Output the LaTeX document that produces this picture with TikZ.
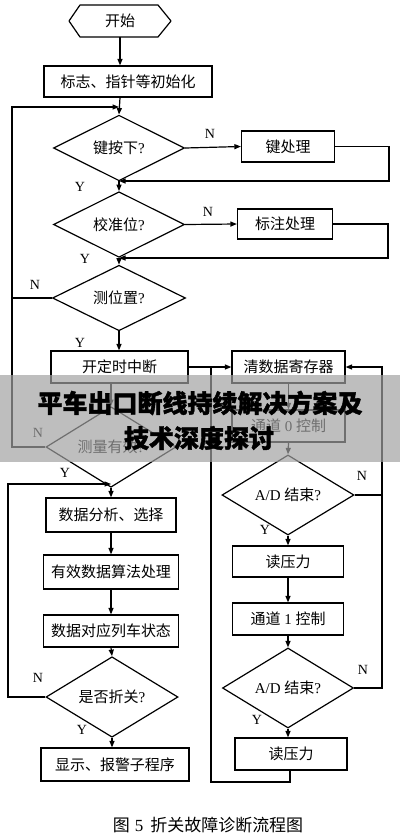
\documentclass[tikz,border=0pt]{standalone}
\usepackage{fontspec}
\setmainfont{Liberation Serif}
\newfontfamily\cjk{Noto Sans CJK SC}
\newfontfamily\cjkh[BoldFeatures={FakeBold=1.6}]{Noto Sans CJK SC}
\usetikzlibrary{shapes.geometric,arrows.meta,calc}
\newcommand\zh[1]{{\cjk #1}}
\begin{document}
\begin{tikzpicture}[x=1pt,y=-1pt,
  ln/.style={line width=1.2pt},
  arr/.style={ln,-{Triangle[length=6.5pt,width=5pt]}},
  pbox/.style={draw,ln,rectangle,inner sep=0pt,font=\fontsize{15}{16}\selectfont},
  dec/.style={draw,ln,diamond,inner sep=0pt,minimum width=131pt,minimum height=50pt,font=\fontsize{15}{16}\selectfont},
  lab/.style={font=\fontsize{14}{16}\selectfont,inner sep=0pt}]
\fill[white] (0,0) rectangle (400,839);
\useasboundingbox (0,0) rectangle (400,839);

% start terminal
\draw[ln,line join=round] (80,5) -- (158,5) -- (171,21) -- (158,37) -- (80,37) -- (69,21) -- cycle;
\node[inner sep=0pt,minimum width=102pt,minimum height=32pt,font=\fontsize{15}{16}\selectfont] (start) at (120,21) {\zh{开始}};

\node[pbox,minimum width=168pt,minimum height=31pt] (init) at (128,81.5) {\zh{标志、指针等初始化}};
\node[dec] (d1) at (119,148) {\zh{键按下}?};
\node[pbox,minimum width=93pt,minimum height=31pt] (kp) at (288,146.5) {\zh{键处理}};
\node[dec,minimum height=49pt] (d2) at (119,224.5) {\zh{校准位}?};
\node[pbox,minimum width=95pt,minimum height=30pt] (bz) at (285,224) {\zh{标注处理}};
\node[dec,minimum width=133pt] (d3) at (119,298) {\zh{测位置}?};
\node[pbox,minimum width=137pt,minimum height=32pt] (ds) at (119.5,367) {\zh{开定时中断}};
\node[pbox,minimum width=113pt,minimum height=32pt] (cq) at (288.5,367) {\zh{清数据寄存器}};
\node[pbox,minimum width=113pt,minimum height=32pt] (td0) at (288.5,426) {\zh{通道} 0 \zh{控制}};
\node[dec,minimum width=132pt] (ad1) at (288,495) {A/D \zh{结束}?};
\node[pbox,minimum width=111pt,minimum height=31pt] (dy1) at (288,561.5) {\zh{读压力}};
\node[pbox,minimum width=111pt,minimum height=32pt] (td1) at (288,619) {\zh{通道} 1 \zh{控制}};
\node[dec,minimum height=49pt] (ad2) at (288,688) {A/D \zh{结束}?};
\node[pbox,minimum width=112pt,minimum height=32pt] (dy2) at (291,754) {\zh{读压力}};

\node[dec,minimum width=130pt] (d4) at (111,447) {\zh{测量有效}?};
\node[pbox,minimum width=130pt,minimum height=34pt] (fx) at (111,515) {\zh{数据分析、选择}};
\node[pbox,minimum width=135pt,minimum height=34pt] (yx) at (111,572) {\zh{有效数据算法处理}};
\node[pbox,minimum width=135pt,minimum height=32pt] (dz) at (111,631) {\zh{数据对应列车状态}};
\node[dec,minimum width=132pt] (d5) at (112,697) {\zh{是否折关}?};
\node[pbox,minimum width=148pt,minimum height=33pt] (xs) at (115,764.5) {\zh{显示、报警子程序}};

% helper coordinates
\coordinate (lt) at (12,107);
\coordinate (k1) at (389,181);
\coordinate (b1) at (388,258);
\coordinate (rr) at (382,688);
\coordinate (rb) at (211,782);
\coordinate (lb) at (8,484);

% main column
\draw[arr] (start.south) -- (start.south |- init.north);
\draw[arr] (start.south |- init.south) -- (d1.north);
\draw[arr] (d1.south) -- (d2.north);
\draw[arr] (d2.south) -- (d3.north);
\draw[arr] (d3.south) -- (d3.south |- ds.north);
\draw[arr] (d1.east) -- (kp.west);
\draw[arr] (kp.east) -| (k1) -- (k1 -| d1.south);
\draw[arr] (d2.east) -- (bz.west);
\draw[arr] (bz.east) -| (b1) -- (b1 -| d2.south);
\draw[ln] (d3.west) -- (d3.west -| lt);
\draw[arr] (d4.west) -| (lt) -- (lt -| d1.north);
\draw[arr] (ds.south -| d4.north) -- (d4.north);

% left column
\draw[arr] (d4.south) -- (fx.north);
\draw[arr] (fx.south) -- (yx.north);
\draw[arr] (yx.south) -- (dz.north);
\draw[arr] (dz.south) -- (d5.north);
\draw[arr] (d5.south) -- (d5.south |- xs.north);
\draw[arr] (d5.west) -| (lb) -- (lb -| fx.north);

% right column
\draw[arr] (ds.east) -- (cq.west);
\draw[arr] (cq.south) -- (td0.north);
\draw[arr] (td0.south) -- (ad1.north);
\draw[arr] (ad1.south) -- (dy1.north);
\draw[arr] (dy1.south) -- (td1.north);
\draw[arr] (td1.south) -- (ad2.north);
\draw[arr] (ad2.south) -- (ad2.south |- dy2.north);
\draw[ln] (ad1.east) -- (ad1.east -| rr);
\draw[arr] (ad2.east) -- (rr) |- (cq.east);
\draw[ln] ($(dy2.south)+(-1,0)$) |- (rb) -- (rb |- ds.east);

% labels
\node[lab] at (210,134) {N};
\node[lab] at (80,187) {Y};
\node[lab] at (208,212) {N};
\node[lab] at (85,259) {Y};
\node[lab] at (35,285) {N};
\node[lab] at (80,343) {Y};
\node[lab] at (38,433) {N};
\node[lab] at (65,473) {Y};
\node[lab] at (38,678) {N};
\node[lab] at (82,730) {Y};
\node[lab] at (362,476) {N};
\node[lab] at (265,530) {Y};
\node[lab] at (363,670) {N};
\node[lab] at (257,720) {Y};

% caption
\node[inner sep=0pt,font=\fontsize{17}{18}\selectfont] (cap) at (208,825) {\zh{图}\hspace{5pt}5\hspace{7pt}\zh{折关故障诊断流程图}};

% overlay band
\fill[black!37,opacity=0.69] (0,375) rectangle (400,462);
\node[inner sep=0pt,font=\fontsize{25}{26}\selectfont\cjkh\bfseries] (t1) at (200,403) {平车出口断线持续解决方案及};
\node[inner sep=0pt,font=\fontsize{25}{26}\selectfont\cjkh\bfseries] (t2) at (199,438) {技术深度探讨};
\end{tikzpicture}
\end{document}
